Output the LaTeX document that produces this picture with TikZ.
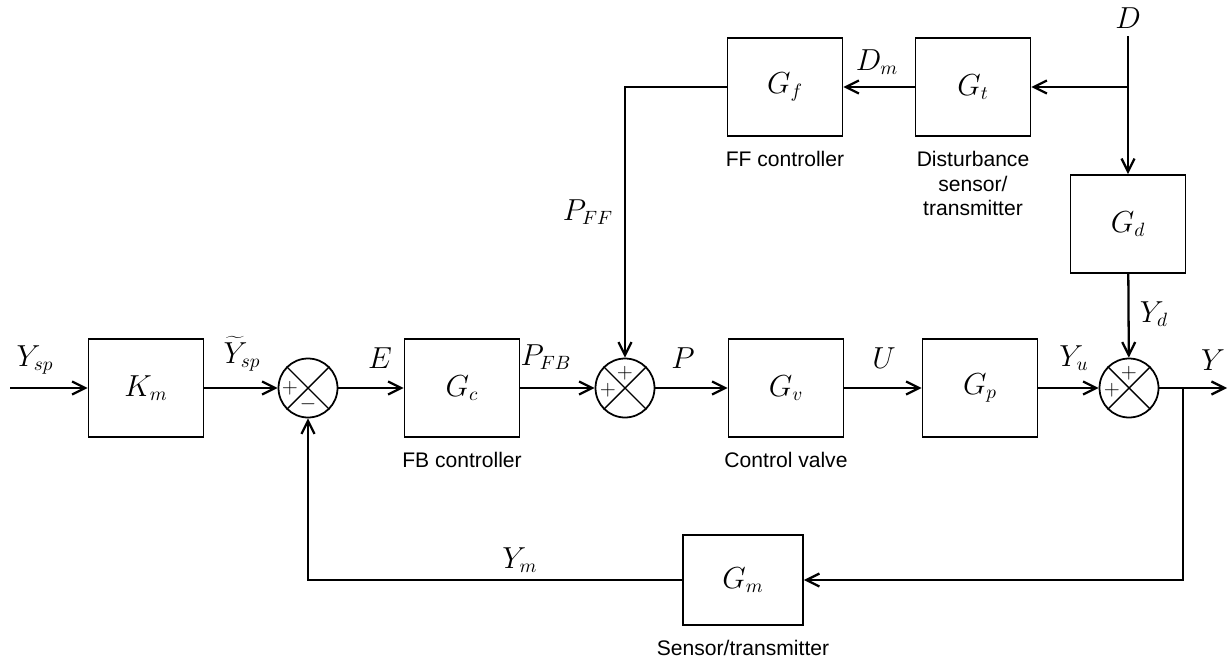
\documentclass[tikz,border=0pt]{standalone}
\usepackage{fontspec}
\newfontfamily\capfont{Liberation Sans}
\usepackage{tikz}
\usetikzlibrary{arrows.meta,positioning,calc}

\begin{document}
\begin{tikzpicture}[x=0.02cm,y=-0.02cm,font=\fontsize{16}{19}\selectfont,
    >={Straight Barb[length=2.6mm,width=2.6mm]},line width=1.3pt]
        \tikzstyle{blk}=[draw,line width=1pt,minimum width=2.3cm,minimum height=1.96cm]
        \tikzstyle{sum}=[draw,circle,line width=1pt,minimum size=1.18cm,inner sep=0pt]
        \tikzstyle{note}=[font=\capfont\fontsize{12}{14}\selectfont,align=center]
        \tikzstyle{sgn}=[font=\fontsize{13}{13}\selectfont,inner sep=0pt]
        \tikzstyle{lbl}=[inner sep=1pt]
        \useasboundingbox (0,0) rectangle (1230,666);
        % feedback loop
        \coordinate (in) at (10,388);
        \node[blk] (km) at (146,388) {$K_m$};
        \node[sum] (s1) at (308,388) {};
        \node[blk] (gc) at (462,388) {$G_c$};
        \node[sum] (s2) at (625,388) {};
        \node[blk] (gv) at (786,388) {$G_v$};
        \node[blk] (gp) at (980,388) {$G_p$};
        \node[sum] (s3) at (1129,388) {};
        \coordinate (out) at (1227,388);
        \coordinate (br)  at (1183,388);
        \node[blk,minimum width=2.4cm,minimum height=1.8cm] (gm) at (743,580) {$G_m$};
        % feedforward path
        \node[blk] (gf) at (785,87) {$G_f$};
        \node[blk] (gt) at (973,87) {$G_t$};
        \node[blk] (gd) at (1128,224) {$G_d$};
        \coordinate (d)  at (1128,36);
        \coordinate (dj) at (1128,87);
        \node[note,below=0.15cm of gc] {FB controller};
        \node[note,below=0.15cm of gv] {Control valve};
        \node[note,below=0.15cm of gf] {FF controller};
        \node[note,below=0.15cm of gt] {Disturbance\\sensor/\\transmitter};
        \node[note,below=0.15cm of gm] {Sensor/transmitter};
        % crosses and signs of the junctions
        \foreach \s in {s1,s2,s3}
            \draw[line width=0.8pt] (\s.north west) -- (\s.south east) (\s.north east) -- (\s.south west);
        \node[sgn] at ($(s1)+(-18,0)$) {$+$};
        \node[sgn] at ($(s1)+(0,16)$)  {$-$};
        \node[sgn] at ($(s2)+(-17,2)$) {$+$};
        \node[sgn] at ($(s2)+(0,-15)$) {$+$};
        \node[sgn] at ($(s3)+(-17,2)$) {$+$};
        \node[sgn] at ($(s3)+(0,-15)$) {$+$};
        % signals
        \node[lbl] at (35,360)   {$Y_{sp}$};
        \node[lbl] at (242,354)  {$\widetilde{Y}_{sp}$};
        \node[lbl] at (380,358)  {$E$};
        \node[lbl] at (546,357)  {$P_{FB}$};
        \node[lbl] at (683,358)  {$P$};
        \node[lbl] at (884,358)  {$U$};
        \node[lbl] at (1074,358) {$Y_u$};
        \node[lbl] at (1213,360) {$Y$};
        \node[lbl] at (1128,18)  {$D$};
        \node[lbl] at (877,62)   {$D_m$};
        \node[lbl] at (588,212)  {$P_{FF}$};
        \node[lbl] at (1154,314) {$Y_d$};
        \node[lbl] at (520,560)  {$Y_m$};
        \draw[->] (in) -- (km);
        \draw[->] (km) -- (s1);
        \draw[->] (s1) -- (gc);
        \draw[->] (gc) -- (s2);
        \draw[->] (s2) -- (gv);
        \draw[->] (gv) -- (gp);
        \draw[->] (gp) -- (s3);
        \draw[->] (s3) -- (out);
        \draw[->] (br) |- (gm);
        \draw[->] (gm) -| (s1);
        \draw[->] (d)  -- (gd);
        \draw[->] (dj) -- (gt);
        \draw[->] (gt) -- (gf);
        \draw[->] (gf) -| (s2);
        \draw[->] (gd) -- (s3);
\end{tikzpicture}
\end{document}
